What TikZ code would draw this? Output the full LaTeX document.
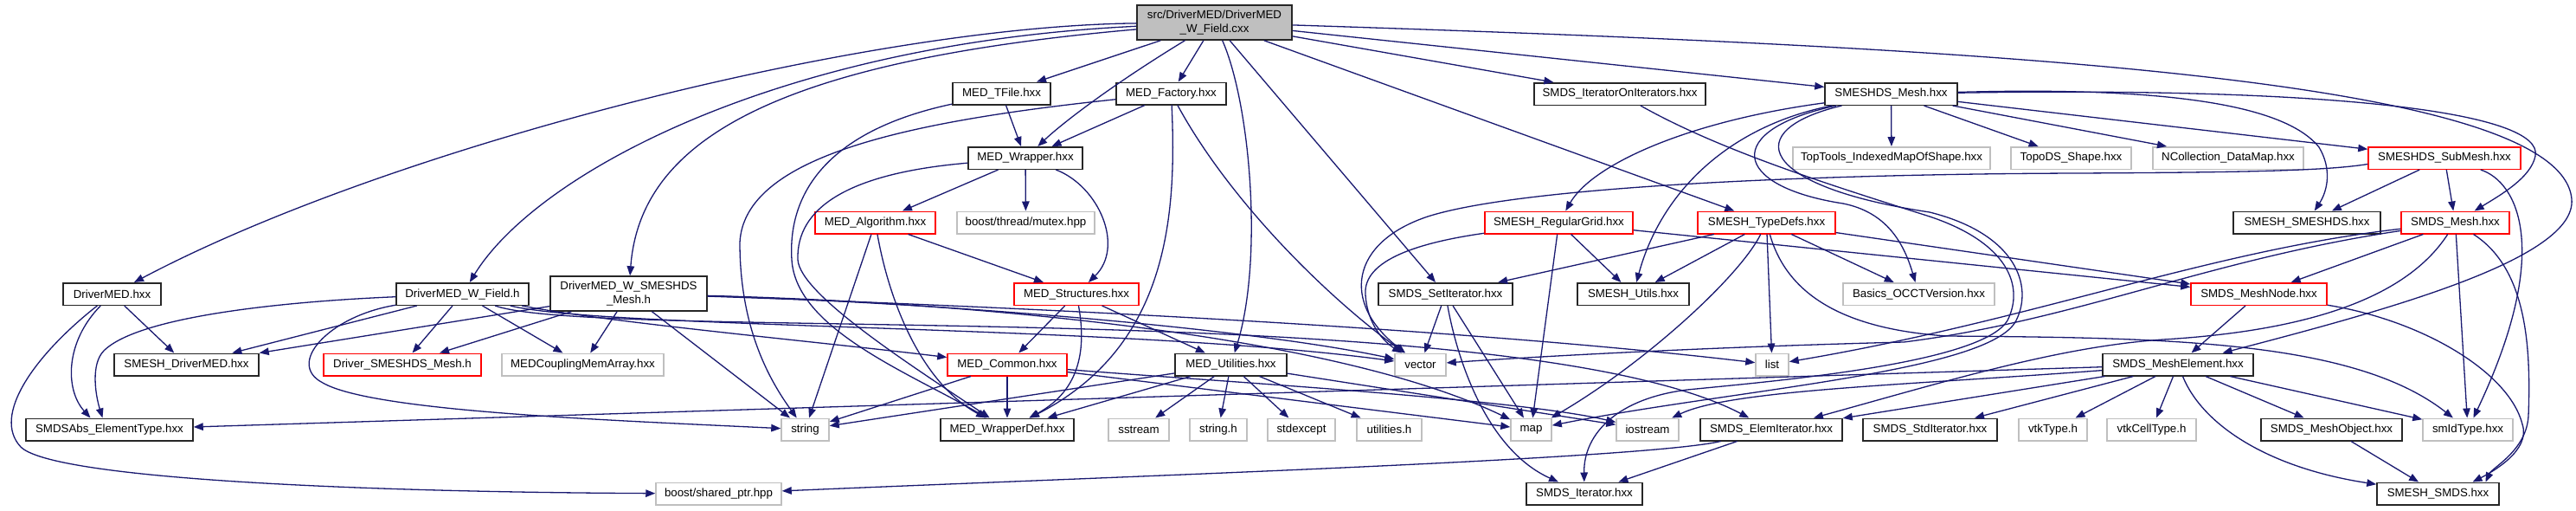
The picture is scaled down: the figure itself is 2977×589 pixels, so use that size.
\documentclass[tikz,border=0pt]{standalone}
\usepackage{fontspec}
\setmainfont{Liberation Sans}
\usetikzlibrary{arrows.meta}
\definecolor{edgec}{HTML}{191970}
\definecolor{greyb}{HTML}{BFBFBF}
\begin{document}
\begin{tikzpicture}[x=1pt,y=-1pt,
  box/.style={draw, line width=1.5pt, inner sep=0pt, minimum height=25.5pt, fill=white,
    font=\fontsize{13.3}{15.7}\selectfont, text=black, align=center},
  bk/.style={box, draw=black!85},
  rd/.style={box, draw=red},
  gy/.style={box, draw=greyb},
  mainbox/.style={box, draw=black!85, fill=greyb},
  edg/.style={draw=edgec, line width=1.3pt, -{Triangle[length=11pt,width=8.5pt]}, fill=none}]
\fill[white] (0,0) rectangle (2977,589);
\useasboundingbox (0,0) rectangle (2977,589);

% row 0
\node[mainbox, minimum width=179pt, minimum height=40pt] (main) at (1403.5,26) {src/DriverMED/DriverMED\\\_W\_Field.cxx};
% row 1
\node[bk, minimum width=113pt] (tfile) at (1157.5,108) {MED\_TFile.hxx};
\node[bk, minimum width=127pt] (factory) at (1353.5,108) {MED\_Factory.hxx};
\node[bk, minimum width=198pt] (iooi) at (1872,108.5) {SMDS\_IteratorOnIterators.hxx};
\node[bk, minimum width=153pt] (dsmesh) at (2185.5,108.5) {SMESHDS\_Mesh.hxx};
% row 2
\node[bk, minimum width=132pt] (wrapper) at (1185,182.5) {MED\_Wrapper.hxx};
\node[gy, minimum width=228pt] (toptools) at (2186,182.5) {TopTools\_IndexedMapOfShape.hxx};
\node[gy, minimum width=139pt] (topods) at (2393.5,182.5) {TopoDS\_Shape.hxx};
\node[gy, minimum width=174pt] (ncoll) at (2575,182.5) {NCollection\_DataMap.hxx};
\node[rd, minimum width=176pt] (submesh) at (2825,182.5) {SMESHDS\_SubMesh.hxx};
% row 3
\node[rd, minimum width=139pt] (algo) at (1011.5,257) {MED\_Algorithm.hxx};
\node[gy, minimum width=159pt] (mutex) at (1185.5,257) {boost/thread/mutex.hpp};
\node[rd, minimum width=171pt] (reggrid) at (1801.5,257) {SMESH\_RegularGrid.hxx};
\node[rd, minimum width=159pt] (typedefs) at (2041.5,257) {SMESH\_TypeDefs.hxx};
\node[bk, minimum width=170pt] (smeshds) at (2666,257) {SMESH\_SMESHDS.hxx};
\node[rd, minimum width=125pt] (smdsmesh) at (2837.5,257) {SMDS\_Mesh.hxx};
% row 4
\node[bk, minimum width=113pt] (drivermed) at (129.5,339.5) {DriverMED.hxx};
\node[bk, minimum width=153pt] (dwfield) at (534.5,339.5) {DriverMED\_W\_Field.h};
\node[bk, minimum width=181pt, minimum height=40pt] (dwsmeshds) at (726.5,339) {DriverMED\_W\_SMESHDS\\\_Mesh.h};
\node[rd, minimum width=144pt] (structs) at (1244,339.5) {MED\_Structures.hxx};
\node[bk, minimum width=155pt] (setit) at (1670.5,339.5) {SMDS\_SetIterator.hxx};
\node[bk, minimum width=129pt] (utils) at (1887.5,339.5) {SMESH\_Utils.hxx};
\node[gy, minimum width=175pt] (occt) at (2217.5,339.5) {Basics\_OCCTVersion.hxx};
\node[rd, minimum width=157pt] (meshnode) at (2610.5,339.5) {SMDS\_MeshNode.hxx};
% row 5
\node[bk, minimum width=167pt] (sdrivermed) at (215.5,421) {SMESH\_DriverMED.hxx};
\node[rd, minimum width=182pt] (dsmeshh) at (465,421) {Driver\_SMESHDS\_Mesh.h};
\node[gy, minimum width=187pt] (memarray) at (673.5,421) {MEDCouplingMemArray.hxx};
\node[rd, minimum width=138pt] (common) at (1164,421) {MED\_Common.hxx};
\node[bk, minimum width=129pt] (medutil) at (1422.5,421) {MED\_Utilities.hxx};
\node[gy, minimum width=59pt] (vector) at (1641.5,421) {vector};
\node[gy, minimum width=38pt] (list) at (2048,421) {list};
\node[bk, minimum width=174pt] (meshelem) at (2517,421) {SMDS\_MeshElement.hxx};
% row 6
\node[bk, minimum width=193pt] (abs) at (126.5,496) {SMDSAbs\_ElementType.hxx};
\node[gy, minimum width=55pt] (string) at (930.5,496) {string};
\node[bk, minimum width=154pt] (wdef) at (1164,496) {MED\_WrapperDef.hxx};
\node[gy, minimum width=70pt] (sstream) at (1316,496) {sstream};
\node[gy, minimum width=66pt] (stringh) at (1408,496) {string.h};
\node[gy, minimum width=78pt] (stdexcept) at (1504,496) {stdexcept};
\node[gy, minimum width=75pt] (utilitiesh) at (1605.5,496) {utilities.h};
\node[gy, minimum width=47pt] (map) at (1769.5,496) {map};
\node[gy, minimum width=72pt] (iostream) at (1904,496) {iostream};
\node[bk, minimum width=164pt] (elemit) at (2047,496) {SMDS\_ElemIterator.hxx};
\node[bk, minimum width=155pt] (stdit) at (2230.5,496) {SMDS\_StdIterator.hxx};
\node[gy, minimum width=79pt] (vtktype) at (2372.5,496) {vtkType.h};
\node[gy, minimum width=103pt] (vtkcell) at (2486.5,496) {vtkCellType.h};
\node[bk, minimum width=163pt] (meshobj) at (2694.5,496) {SMDS\_MeshObject.hxx};
\node[gy, minimum width=104pt] (smid) at (2852,496) {smIdType.hxx};
% row 7
\node[gy, minimum width=145pt] (sharedptr) at (830.5,570) {boost/shared\_ptr.hpp};
\node[bk, minimum width=134pt] (iter) at (1831,570) {SMDS\_Iterator.hxx};
\node[bk, minimum width=141pt] (smds) at (2817.5,570) {SMESH\_SMDS.hxx};

% ---- edges from main
\draw[edg] (main) .. controls (1000,30) and (450,170) .. (drivermed);
\draw[edg] (main) .. controls (900,50) and (620,200) .. (dwfield);
\draw[edg] (main) .. controls (900,70) and (740,160) .. (dwsmeshds);
\draw[edg] (main) -- (tfile);
\draw[edg] (main) -- (factory);
\draw[edg] (main) .. controls (1290,95) and (1230,140) .. (wrapper);
\draw[edg] (main) .. controls (1445,120) and (1460,300) .. (medutil);
\draw[edg] (main) -- (setit);
\draw[edg] (main) -- (iooi);
\draw[edg] (main) -- (dsmesh);
\draw[edg] (main) -- (typedefs);
\draw[edg] (main) .. controls (2300,55) and (2960,90) .. (2972,230) .. controls (2978,300) and (2750,360) .. (meshelem);

% ---- MED_Factory
\draw[edg] (factory) -- (wrapper);
\draw[edg] (factory) .. controls (1050,140) and (860,180) .. (855,280) .. controls (855,380) and (890,440) .. (string);
\draw[edg] (factory) .. controls (1360,250) and (1350,400) .. (wdef);
\draw[edg] (factory) .. controls (1420,230) and (1530,340) .. (vector);
% ---- MED_TFile
\draw[edg] (tfile) -- (wrapper);
\draw[edg] (tfile) .. controls (960,150) and (910,220) .. (915,300) .. controls (920,380) and (1050,430) .. (wdef);
% ---- MED_Wrapper
\draw[edg] (wrapper) -- (algo);
\draw[edg] (wrapper) -- (mutex);
\draw[edg] (wrapper) .. controls (1270,215) and (1300,285) .. (structs);
\draw[edg] (wrapper) .. controls (980,200) and (920,240) .. (922,300) .. controls (925,340) and (1050,420) .. (wdef);
% ---- MED_Algorithm
\draw[edg] (algo) -- (structs);
\draw[edg] (algo) -- (string);
\draw[edg] (algo) .. controls (1030,360) and (1070,445) .. (wdef);
% ---- MED_Structures
\draw[edg] (structs) -- (common);
\draw[edg] (structs) .. controls (1255,400) and (1250,450) .. (wdef);
\draw[edg] (structs) -- (medutil);
% ---- MED_Common
\draw[edg] (common) -- (string);
\draw[edg] (common) -- (wdef);
\draw[edg] (common) -- (map);
\draw[edg] (common) .. controls (1400,440) and (1750,460) .. (iostream);
% ---- MED_Utilities
\draw[edg] (medutil) -- (string);
\draw[edg] (medutil) -- (wdef);
\draw[edg] (medutil) -- (sstream);
\draw[edg] (medutil) -- (stringh);
\draw[edg] (medutil) -- (stdexcept);
\draw[edg] (medutil) -- (utilitiesh);
\draw[edg] (medutil) -- (iostream);
% ---- DriverMED
\draw[edg] (drivermed) -- (sdrivermed);
\draw[edg] (drivermed) .. controls (75,395) and (75,450) .. ([xshift=-22pt]abs.north);
\draw[edg] (drivermed) .. controls (40,410) and (-10,480) .. (24,516) .. controls (60,552) and (400,568) .. (sharedptr);
% ---- DriverMED_W_Field
\draw[edg] (dwfield) .. controls (330,348) and (160,365) .. (120,405) .. controls (105,420) and (110,455) .. ([xshift=-8pt]abs.north);
\draw[edg] (dwfield) -- (sdrivermed);
\draw[edg] (dwfield) -- (dsmeshh);
\draw[edg] (dwfield) -- (memarray);
\draw[edg] (dwfield) .. controls (380,365) and (330,420) .. (373,442) .. controls (430,475) and (700,485) .. (string);
\draw[edg] (dwfield) .. controls (700,372) and (950,395) .. (common);
\draw[edg] (dwfield) .. controls (700,380) and (1300,375) .. (vector);
\draw[edg] (dwfield) .. controls (690,395) and (1750,340) .. (elemit);
% ---- DriverMED_W_SMESHDS_Mesh
\draw[edg] (dwsmeshds) -- (sdrivermed);
\draw[edg] (dwsmeshds) -- (dsmeshh);
\draw[edg] (dwsmeshds) -- (memarray);
\draw[edg] (dwsmeshds) -- (string);
\draw[edg] (dwsmeshds) .. controls (1100,350) and (1450,380) .. (vector);
\draw[edg] (dwsmeshds) .. controls (1200,355) and (1700,380) .. (list);
\draw[edg] (dwsmeshds) .. controls (1150,350) and (1550,390) .. (map);
% ---- SMDS_SetIterator
\draw[edg] (setit) -- (vector);
\draw[edg] (setit) -- (map);
\draw[edg] (setit) .. controls (1685,420) and (1720,520) .. (iter);
% ---- SMDS_IteratorOnIterators
\draw[edg] (iooi) .. controls (1990,175) and (2120,215) .. (2230,250) .. controls (2320,280) and (2340,330) .. (2320,370) .. controls (2290,420) and (2050,440) .. (1950,450) .. controls (1870,460) and (1830,500) .. (iter);
% ---- SMESHDS_Mesh
\draw[edg] (dsmesh) .. controls (1950,140) and (1840,190) .. (reggrid);
\draw[edg] (dsmesh) .. controls (2000,145) and (1920,220) .. (utils);
\draw[edg] (dsmesh) .. controls (1990,150) and (2000,215) .. (2130,235) .. controls (2180,245) and (2200,280) .. (occt);
\draw[edg] (dsmesh) .. controls (2010,150) and (2030,215) .. (2230,245) .. controls (2330,270) and (2350,330) .. (2330,370) .. controls (2300,430) and (2000,450) .. (map);
\draw[edg] (dsmesh) -- (toptools);
\draw[edg] (dsmesh) -- (topods);
\draw[edg] (dsmesh) -- (ncoll);
\draw[edg] (dsmesh) -- (submesh);
\draw[edg] (dsmesh) .. controls (2500,100) and (2640,120) .. (2680,170) .. controls (2695,195) and (2690,220) .. (smeshds);
\draw[edg] (dsmesh) .. controls (2700,100) and (2940,130) .. (2930,180) .. controls (2925,205) and (2890,225) .. (smdsmesh);
% ---- SMESHDS_SubMesh
\draw[edg] (submesh) -- (smeshds);
\draw[edg] (submesh) -- (smdsmesh);
\draw[edg] ([yshift=-7pt]submesh.west) .. controls (2690,197) and (2600,199) .. (2400,200) .. controls (2100,201) and (1760,215) .. (1650,250) .. controls (1560,280) and (1550,350) .. (vector);
\draw[edg] (submesh) .. controls (2910,210) and (2950,290) .. (smid);
% ---- SMESH_RegularGrid
\draw[edg] (reggrid) .. controls (1640,280) and (1575,300) .. (1578,340) .. controls (1580,375) and (1600,395) .. (vector);
\draw[edg] (reggrid) -- (map);
\draw[edg] (reggrid) -- (utils);
\draw[edg] (reggrid) -- (meshnode);
% ---- SMESH_TypeDefs
\draw[edg] (typedefs) -- (setit);
\draw[edg] (typedefs) -- (utils);
\draw[edg] (typedefs) .. controls (2010,320) and (1900,420) .. (map);
\draw[edg] (typedefs) -- (list);
\draw[edg] (typedefs) .. controls (2065,340) and (2130,380) .. (2250,388) .. controls (2500,390) and (2720,392) .. (smid);
\draw[edg] (typedefs) -- (occt);
\draw[edg] (typedefs) -- (meshnode);
% ---- SMDS_Mesh
\draw[edg] (smdsmesh) -- (meshnode);
\draw[edg] (smdsmesh) .. controls (2550,290) and (2350,370) .. (list);
\draw[edg] (smdsmesh) .. controls (2550,300) and (2400,370) .. (2200,395) .. controls (2000,400) and (1800,410) .. (vector);
\draw[edg] (smdsmesh) .. controls (2790,330) and (2700,380) .. (2500,392) .. controls (2380,400) and (2250,440) .. (elemit);
\draw[edg] (smdsmesh) -- (smid);
\draw[edg] (smdsmesh) .. controls (2920,310) and (2925,400) .. (2922,480) .. controls (2920,520) and (2880,540) .. ([xshift=55pt]smds.north);
% ---- SMDS_MeshNode
\draw[edg] (meshnode) -- (meshelem);
\draw[edg] (meshnode) .. controls (2800,370) and (2900,430) .. (2915,490) .. controls (2925,520) and (2880,545) .. ([xshift=40pt]smds.north);
% ---- SMDS_MeshElement
\draw[edg] (meshelem) -- (abs);
\draw[edg] (meshelem) -- (elemit);
\draw[edg] (meshelem) .. controls (2200,445) and (2000,450) .. (iostream);
\draw[edg] (meshelem) -- (stdit);
\draw[edg] (meshelem) -- (vtktype);
\draw[edg] (meshelem) -- (vtkcell);
\draw[edg] (meshelem) .. controls (2545,490) and (2620,540) .. (smds);
\draw[edg] (meshelem) -- (meshobj);
\draw[edg] (meshelem) -- (smid);
% ---- others
\draw[edg] (meshobj) -- (smds);
\draw[edg] (elemit) -- (iter);
\draw[edg] (elemit) .. controls (1900,530) and (1300,550) .. (sharedptr);
\end{tikzpicture}
\end{document}
